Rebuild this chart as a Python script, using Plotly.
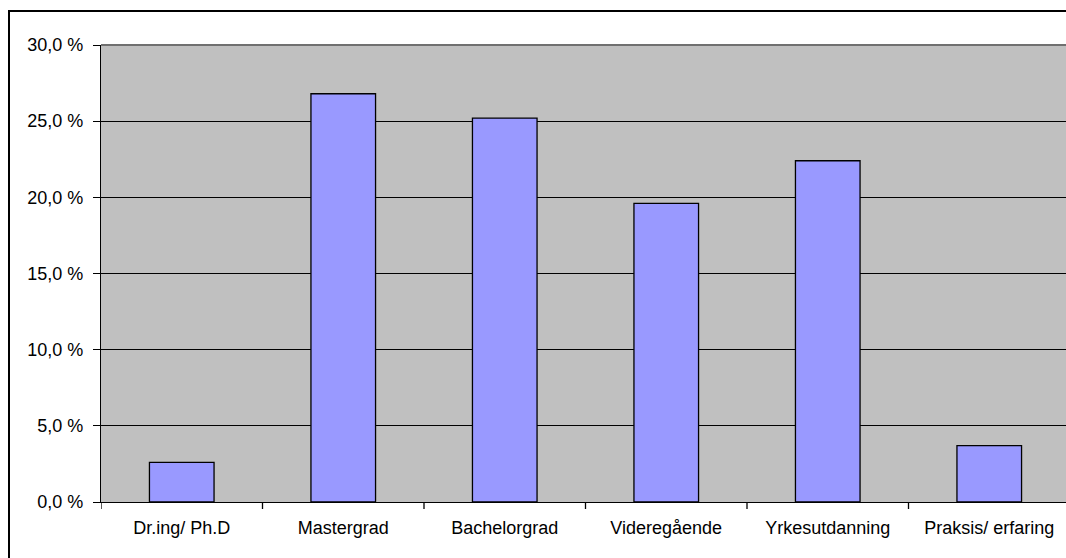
import plotly.graph_objects as go

categories = ["Dr.ing/ Ph.D", "Mastergrad", "Bachelorgrad", "Videregående", "Yrkesutdanning", "Praksis/ erfaring"]
values = [2.6, 26.8, 25.2, 19.6, 22.4, 3.7]
y_ticks = [0, 5, 10, 15, 20, 25, 30]

W, H = 1066, 558
L, R, T, B = 101, 0, 45, 56
pw, ph = W - L - R, H - T - B

fig = go.Figure(go.Bar(
    x=list(range(len(categories))), y=values,
    marker=dict(color="#9999FF", line=dict(color="black", width=1.3)),
    width=0.4,
))

def px_x(p):
    return (p - L) / pw

def px_y(p):
    return (H - B - p) / ph

fig.update_layout(
    width=W, height=H,
    margin=dict(l=L, r=R, t=T, b=B),
    paper_bgcolor="white",
    plot_bgcolor="#C0C0C0",
    showlegend=False,
    font=dict(family="Liberation Sans, Arial, sans-serif", size=18, color="black"),
    xaxis=dict(
        range=[-0.5, -0.5 + pw / 161.5],
        tickmode="array",
        tickvals=list(range(len(categories))),
        ticktext=categories,
        showgrid=False,
        showline=True, linecolor="black", linewidth=1.3,
        zeroline=False,
        ticks="",
        ticklabelstandoff=9,
        tickfont=dict(size=18),
    ),
    yaxis=dict(
        range=[0, 30],
        tickmode="array",
        tickvals=y_ticks,
        ticktext=[f"{v:.1f}".replace(".", ",") + " %" for v in y_ticks],
        showgrid=True, gridcolor="black", gridwidth=1.3,
        showline=True, linecolor="black", linewidth=1.3,
        zeroline=False,
        ticks="outside", ticklen=7, tickcolor="black", tickwidth=1.3,
        ticklabelstandoff=6,
        tickfont=dict(size=18),
    ),
    bargap=0.6,
)

shapes = []
for i in range(len(categories) + 1):
    xb = i - 0.5
    shapes.append(dict(type="line", xref="x", yref="paper", x0=xb, x1=xb,
                       y0=0, y1=-7 / ph, line=dict(color="black", width=1.3)))
shapes.append(dict(type="line", xref="paper", yref="paper", x0=0, x1=1, y0=1, y1=1,
                   line=dict(color="#707070", width=2)))
shapes.append(dict(type="rect", xref="paper", yref="paper",
                   x0=px_x(9), x1=px_x(W + 20), y0=px_y(H + 20), y1=px_y(11),
                   line=dict(color="black", width=2), fillcolor="rgba(0,0,0,0)"))
fig.update_layout(shapes=shapes)

fig.write_html("out.html",
               config={"displayModeBar": False},
               post_script="document.body.style.margin='0';document.body.style.overflow='hidden';")
